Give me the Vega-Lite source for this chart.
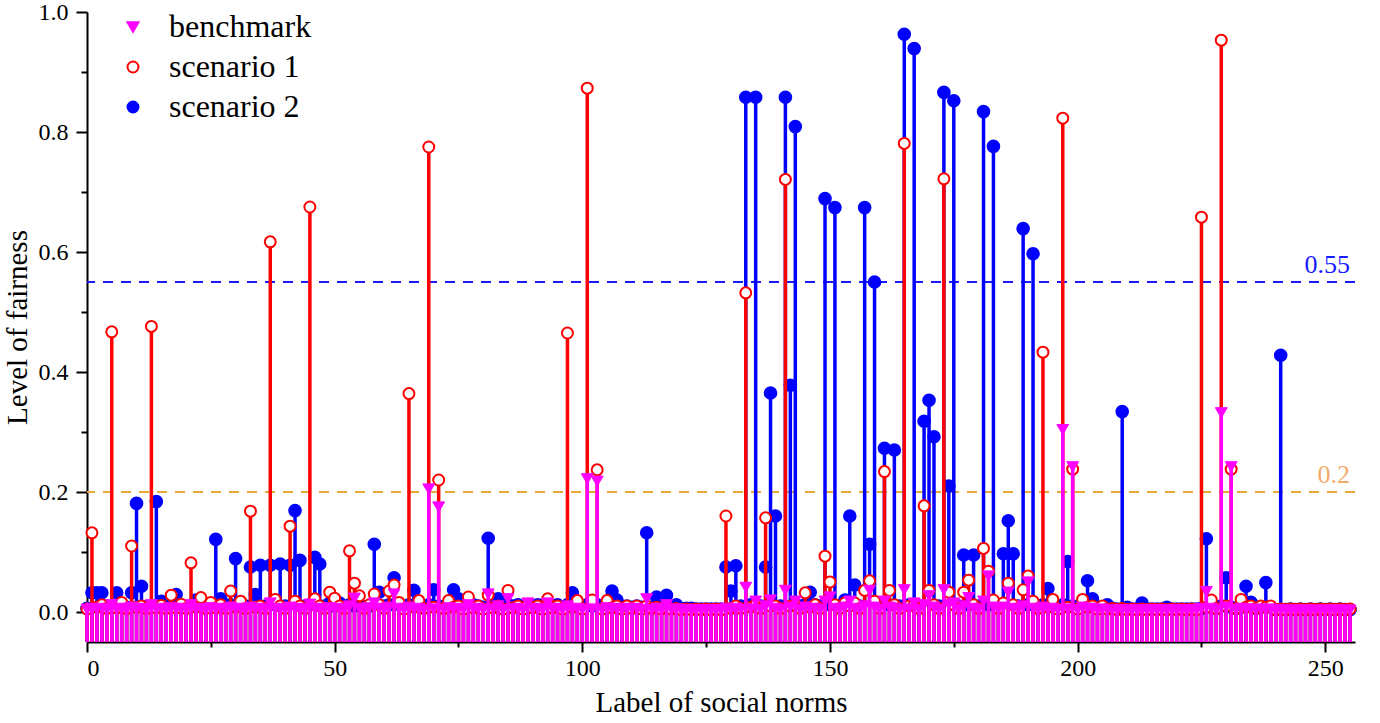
{
  "$schema": "https://vega.github.io/schema/vega-lite/v6.json",
  "width": 1268,
  "height": 630,
  "autosize": {"type": "none"},
  "padding": {"left": 87, "top": 12, "right": 25, "bottom": 81},
  "background": "#ffffff",
  "view": {"stroke": null},
  "config": {
    "font": "Liberation Serif",
    "axis": {
      "domainColor": "#000000",
      "domainWidth": 2,
      "tickColor": "#000000",
      "tickWidth": 2,
      "labelFont": "Liberation Serif",
      "labelFontSize": 24,
      "labelColor": "#000000",
      "titleFont": "Liberation Serif",
      "titleFontSize": 29,
      "titleFontWeight": "normal",
      "titleColor": "#000000",
      "grid": false
    },
    "legend": {
      "orient": "none",
      "legendX": 30,
      "legendY": -1,
      "labelFont": "Liberation Serif",
      "labelFontSize": 32,
      "labelColor": "#000000",
      "symbolSize": 120,
      "symbolStrokeWidth": 2,
      "rowPadding": 8,
      "labelOffset": 20
    }
  },
  "layer": [
    {
      "data": {"values": [{"level": 0.55, "label": "0.55"}]},
      "layer": [
        {
          "mark": {"type": "rule", "color": "#1a1aff", "strokeWidth": 2, "strokeDash": [10, 8]},
          "encoding": {"y": {"field": "level", "type": "quantitative"}}
        },
        {
          "mark": {"type": "text", "color": "#1a1aff", "font": "Liberation Serif", "fontSize": 26, "align": "right", "baseline": "bottom", "dy": -4},
          "encoding": {
            "x": {"datum": 255, "type": "quantitative"},
            "y": {"field": "level", "type": "quantitative"},
            "text": {"field": "label"}
          }
        }
      ]
    },
    {
      "data": {"values": [{"level": 0.2, "label": "0.2"}]},
      "layer": [
        {
          "mark": {"type": "rule", "color": "#e6a93a", "strokeWidth": 2, "strokeDash": [10, 8]},
          "encoding": {"y": {"field": "level", "type": "quantitative"}}
        },
        {
          "mark": {"type": "text", "color": "#f2aa6b", "font": "Liberation Serif", "fontSize": 26, "align": "right", "baseline": "bottom", "dy": -4},
          "encoding": {
            "x": {"datum": 255, "type": "quantitative"},
            "y": {"field": "level", "type": "quantitative"},
            "text": {"field": "label"}
          }
        }
      ]
    },
    {
      "data": {
        "values": [
          {"n":0,"bench":0.004,"sc1":0.005,"sc2":0.006},
          {"n":1,"bench":0.006,"sc1":0.132,"sc2":0.032},
          {"n":2,"bench":0.005,"sc1":0.008,"sc2":0.032},
          {"n":3,"bench":0.006,"sc1":0.012,"sc2":0.032},
          {"n":4,"bench":0.004,"sc1":0.006,"sc2":0.010},
          {"n":5,"bench":0.012,"sc1":0.467,"sc2":0.008},
          {"n":6,"bench":0.005,"sc1":0.007,"sc2":0.032},
          {"n":7,"bench":0.006,"sc1":0.016,"sc2":0.010},
          {"n":8,"bench":0.004,"sc1":0.006,"sc2":0.008},
          {"n":9,"bench":0.008,"sc1":0.110,"sc2":0.032},
          {"n":10,"bench":0.005,"sc1":0.008,"sc2":0.181},
          {"n":11,"bench":0.006,"sc1":0.010,"sc2":0.043},
          {"n":12,"bench":0.004,"sc1":0.006,"sc2":0.009},
          {"n":13,"bench":0.012,"sc1":0.476,"sc2":0.010},
          {"n":14,"bench":0.005,"sc1":0.007,"sc2":0.184},
          {"n":15,"bench":0.006,"sc1":0.011,"sc2":0.018},
          {"n":16,"bench":0.004,"sc1":0.006,"sc2":0.010},
          {"n":17,"bench":0.007,"sc1":0.028,"sc2":0.012},
          {"n":18,"bench":0.005,"sc1":0.007,"sc2":0.029},
          {"n":19,"bench":0.006,"sc1":0.013,"sc2":0.010},
          {"n":20,"bench":0.004,"sc1":0.006,"sc2":0.008},
          {"n":21,"bench":0.012,"sc1":0.082,"sc2":0.010},
          {"n":22,"bench":0.005,"sc1":0.008,"sc2":0.020},
          {"n":23,"bench":0.006,"sc1":0.024,"sc2":0.012},
          {"n":24,"bench":0.004,"sc1":0.006,"sc2":0.009},
          {"n":25,"bench":0.007,"sc1":0.016,"sc2":0.012},
          {"n":26,"bench":0.005,"sc1":0.007,"sc2":0.121},
          {"n":27,"bench":0.006,"sc1":0.012,"sc2":0.022},
          {"n":28,"bench":0.004,"sc1":0.006,"sc2":0.010},
          {"n":29,"bench":0.008,"sc1":0.035,"sc2":0.012},
          {"n":30,"bench":0.005,"sc1":0.008,"sc2":0.089},
          {"n":31,"bench":0.006,"sc1":0.018,"sc2":0.012},
          {"n":32,"bench":0.004,"sc1":0.006,"sc2":0.010},
          {"n":33,"bench":0.008,"sc1":0.168,"sc2":0.075},
          {"n":34,"bench":0.005,"sc1":0.008,"sc2":0.029},
          {"n":35,"bench":0.006,"sc1":0.010,"sc2":0.078},
          {"n":36,"bench":0.004,"sc1":0.006,"sc2":0.010},
          {"n":37,"bench":0.015,"sc1":0.617,"sc2":0.078},
          {"n":38,"bench":0.005,"sc1":0.021,"sc2":0.012},
          {"n":39,"bench":0.006,"sc1":0.010,"sc2":0.080},
          {"n":40,"bench":0.004,"sc1":0.006,"sc2":0.010},
          {"n":41,"bench":0.008,"sc1":0.143,"sc2":0.078},
          {"n":42,"bench":0.005,"sc1":0.018,"sc2":0.169},
          {"n":43,"bench":0.006,"sc1":0.010,"sc2":0.086},
          {"n":44,"bench":0.004,"sc1":0.006,"sc2":0.010},
          {"n":45,"bench":0.013,"sc1":0.675,"sc2":0.012},
          {"n":46,"bench":0.005,"sc1":0.022,"sc2":0.091},
          {"n":47,"bench":0.006,"sc1":0.010,"sc2":0.080},
          {"n":48,"bench":0.004,"sc1":0.006,"sc2":0.010},
          {"n":49,"bench":0.007,"sc1":0.033,"sc2":0.015},
          {"n":50,"bench":0.005,"sc1":0.023,"sc2":0.010},
          {"n":51,"bench":0.006,"sc1":0.010,"sc2":0.015},
          {"n":52,"bench":0.004,"sc1":0.006,"sc2":0.008},
          {"n":53,"bench":0.010,"sc1":0.102,"sc2":0.012},
          {"n":54,"bench":0.023,"sc1":0.048,"sc2":0.010},
          {"n":55,"bench":0.006,"sc1":0.027,"sc2":0.012},
          {"n":56,"bench":0.004,"sc1":0.006,"sc2":0.008},
          {"n":57,"bench":0.007,"sc1":0.012,"sc2":0.010},
          {"n":58,"bench":0.015,"sc1":0.030,"sc2":0.113},
          {"n":59,"bench":0.006,"sc1":0.012,"sc2":0.033},
          {"n":60,"bench":0.004,"sc1":0.006,"sc2":0.010},
          {"n":61,"bench":0.008,"sc1":0.035,"sc2":0.012},
          {"n":62,"bench":0.030,"sc1":0.045,"sc2":0.057},
          {"n":63,"bench":0.006,"sc1":0.016,"sc2":0.012},
          {"n":64,"bench":0.004,"sc1":0.005,"sc2":0.008},
          {"n":65,"bench":0.008,"sc1":0.364,"sc2":0.012},
          {"n":66,"bench":0.005,"sc1":0.008,"sc2":0.036},
          {"n":67,"bench":0.006,"sc1":0.019,"sc2":0.010},
          {"n":68,"bench":0.004,"sc1":0.006,"sc2":0.008},
          {"n":69,"bench":0.205,"sc1":0.775,"sc2":0.012},
          {"n":70,"bench":0.005,"sc1":0.008,"sc2":0.037},
          {"n":71,"bench":0.175,"sc1":0.220,"sc2":0.010},
          {"n":72,"bench":0.004,"sc1":0.006,"sc2":0.008},
          {"n":73,"bench":0.007,"sc1":0.019,"sc2":0.012},
          {"n":74,"bench":0.005,"sc1":0.008,"sc2":0.037},
          {"n":75,"bench":0.006,"sc1":0.010,"sc2":0.022},
          {"n":76,"bench":0.004,"sc1":0.005,"sc2":0.008},
          {"n":77,"bench":0.012,"sc1":0.025,"sc2":0.010},
          {"n":78,"bench":0.005,"sc1":0.007,"sc2":0.012},
          {"n":79,"bench":0.006,"sc1":0.010,"sc2":0.010},
          {"n":80,"bench":0.004,"sc1":0.005,"sc2":0.008},
          {"n":81,"bench":0.030,"sc1":0.028,"sc2":0.123},
          {"n":82,"bench":0.005,"sc1":0.007,"sc2":0.010},
          {"n":83,"bench":0.010,"sc1":0.010,"sc2":0.022},
          {"n":84,"bench":0.004,"sc1":0.005,"sc2":0.008},
          {"n":85,"bench":0.022,"sc1":0.036,"sc2":0.012},
          {"n":86,"bench":0.005,"sc1":0.007,"sc2":0.010},
          {"n":87,"bench":0.006,"sc1":0.010,"sc2":0.012},
          {"n":88,"bench":0.004,"sc1":0.005,"sc2":0.008},
          {"n":89,"bench":0.015,"sc1":0.012,"sc2":0.010},
          {"n":90,"bench":0.005,"sc1":0.007,"sc2":0.010},
          {"n":91,"bench":0.006,"sc1":0.010,"sc2":0.012},
          {"n":92,"bench":0.004,"sc1":0.005,"sc2":0.008},
          {"n":93,"bench":0.015,"sc1":0.022,"sc2":0.010},
          {"n":94,"bench":0.005,"sc1":0.007,"sc2":0.010},
          {"n":95,"bench":0.006,"sc1":0.010,"sc2":0.012},
          {"n":96,"bench":0.004,"sc1":0.005,"sc2":0.008},
          {"n":97,"bench":0.010,"sc1":0.465,"sc2":0.012},
          {"n":98,"bench":0.005,"sc1":0.008,"sc2":0.032},
          {"n":99,"bench":0.006,"sc1":0.019,"sc2":0.012},
          {"n":100,"bench":0.004,"sc1":0.005,"sc2":0.010},
          {"n":101,"bench":0.222,"sc1":0.873,"sc2":0.012},
          {"n":102,"bench":0.005,"sc1":0.020,"sc2":0.010},
          {"n":103,"bench":0.218,"sc1":0.237,"sc2":0.012},
          {"n":104,"bench":0.004,"sc1":0.005,"sc2":0.008},
          {"n":105,"bench":0.007,"sc1":0.019,"sc2":0.012},
          {"n":106,"bench":0.005,"sc1":0.007,"sc2":0.035},
          {"n":107,"bench":0.006,"sc1":0.010,"sc2":0.020},
          {"n":108,"bench":0.004,"sc1":0.005,"sc2":0.008},
          {"n":109,"bench":0.006,"sc1":0.010,"sc2":0.010},
          {"n":110,"bench":0.005,"sc1":0.006,"sc2":0.008},
          {"n":111,"bench":0.006,"sc1":0.010,"sc2":0.010},
          {"n":112,"bench":0.004,"sc1":0.005,"sc2":0.008},
          {"n":113,"bench":0.022,"sc1":0.010,"sc2":0.132},
          {"n":114,"bench":0.004,"sc1":0.006,"sc2":0.008},
          {"n":115,"bench":0.006,"sc1":0.008,"sc2":0.025},
          {"n":116,"bench":0.004,"sc1":0.005,"sc2":0.008},
          {"n":117,"bench":0.012,"sc1":0.008,"sc2":0.028},
          {"n":118,"bench":0.004,"sc1":0.005,"sc2":0.006},
          {"n":119,"bench":0.005,"sc1":0.006,"sc2":0.012},
          {"n":120,"bench":0.003,"sc1":0.004,"sc2":0.005},
          {"n":121,"bench":0.004,"sc1":0.005,"sc2":0.006},
          {"n":122,"bench":0.003,"sc1":0.004,"sc2":0.006},
          {"n":123,"bench":0.004,"sc1":0.005,"sc2":0.005},
          {"n":124,"bench":0.003,"sc1":0.004,"sc2":0.005},
          {"n":125,"bench":0.004,"sc1":0.005,"sc2":0.005},
          {"n":126,"bench":0.003,"sc1":0.004,"sc2":0.005},
          {"n":127,"bench":0.004,"sc1":0.005,"sc2":0.005},
          {"n":128,"bench":0.003,"sc1":0.004,"sc2":0.005},
          {"n":129,"bench":0.006,"sc1":0.160,"sc2":0.075},
          {"n":130,"bench":0.004,"sc1":0.006,"sc2":0.035},
          {"n":131,"bench":0.006,"sc1":0.010,"sc2":0.077},
          {"n":132,"bench":0.004,"sc1":0.006,"sc2":0.010},
          {"n":133,"bench":0.041,"sc1":0.532,"sc2":0.858},
          {"n":134,"bench":0.005,"sc1":0.008,"sc2":0.012},
          {"n":135,"bench":0.018,"sc1":0.012,"sc2":0.858},
          {"n":136,"bench":0.004,"sc1":0.006,"sc2":0.010},
          {"n":137,"bench":0.010,"sc1":0.157,"sc2":0.075},
          {"n":138,"bench":0.020,"sc1":0.010,"sc2":0.365},
          {"n":139,"bench":0.006,"sc1":0.010,"sc2":0.160},
          {"n":140,"bench":0.004,"sc1":0.006,"sc2":0.010},
          {"n":141,"bench":0.036,"sc1":0.721,"sc2":0.858},
          {"n":142,"bench":0.008,"sc1":0.010,"sc2":0.378},
          {"n":143,"bench":0.018,"sc1":0.012,"sc2":0.809},
          {"n":144,"bench":0.004,"sc1":0.006,"sc2":0.010},
          {"n":145,"bench":0.008,"sc1":0.032,"sc2":0.012},
          {"n":146,"bench":0.005,"sc1":0.008,"sc2":0.033},
          {"n":147,"bench":0.006,"sc1":0.012,"sc2":0.012},
          {"n":148,"bench":0.004,"sc1":0.006,"sc2":0.010},
          {"n":149,"bench":0.018,"sc1":0.093,"sc2":0.689},
          {"n":150,"bench":0.025,"sc1":0.050,"sc2":0.012},
          {"n":151,"bench":0.006,"sc1":0.012,"sc2":0.674},
          {"n":152,"bench":0.004,"sc1":0.006,"sc2":0.010},
          {"n":153,"bench":0.008,"sc1":0.015,"sc2":0.020},
          {"n":154,"bench":0.018,"sc1":0.010,"sc2":0.160},
          {"n":155,"bench":0.006,"sc1":0.015,"sc2":0.045},
          {"n":156,"bench":0.004,"sc1":0.006,"sc2":0.010},
          {"n":157,"bench":0.010,"sc1":0.036,"sc2":0.674},
          {"n":158,"bench":0.036,"sc1":0.052,"sc2":0.113},
          {"n":159,"bench":0.008,"sc1":0.018,"sc2":0.550},
          {"n":160,"bench":0.004,"sc1":0.006,"sc2":0.010},
          {"n":161,"bench":0.018,"sc1":0.234,"sc2":0.273},
          {"n":162,"bench":0.008,"sc1":0.036,"sc2":0.012},
          {"n":163,"bench":0.006,"sc1":0.012,"sc2":0.270},
          {"n":164,"bench":0.004,"sc1":0.006,"sc2":0.010},
          {"n":165,"bench":0.037,"sc1":0.781,"sc2":0.963},
          {"n":166,"bench":0.005,"sc1":0.010,"sc2":0.012},
          {"n":167,"bench":0.015,"sc1":0.012,"sc2":0.939},
          {"n":168,"bench":0.004,"sc1":0.006,"sc2":0.010},
          {"n":169,"bench":0.012,"sc1":0.177,"sc2":0.318},
          {"n":170,"bench":0.027,"sc1":0.036,"sc2":0.353},
          {"n":171,"bench":0.008,"sc1":0.012,"sc2":0.292},
          {"n":172,"bench":0.004,"sc1":0.006,"sc2":0.010},
          {"n":173,"bench":0.037,"sc1":0.722,"sc2":0.866},
          {"n":174,"bench":0.012,"sc1":0.033,"sc2":0.210},
          {"n":175,"bench":0.015,"sc1":0.012,"sc2":0.852},
          {"n":176,"bench":0.004,"sc1":0.006,"sc2":0.010},
          {"n":177,"bench":0.010,"sc1":0.033,"sc2":0.095},
          {"n":178,"bench":0.024,"sc1":0.053,"sc2":0.012},
          {"n":179,"bench":0.006,"sc1":0.012,"sc2":0.095},
          {"n":180,"bench":0.004,"sc1":0.006,"sc2":0.010},
          {"n":181,"bench":0.018,"sc1":0.106,"sc2":0.834},
          {"n":182,"bench":0.060,"sc1":0.068,"sc2":0.012},
          {"n":183,"bench":0.008,"sc1":0.020,"sc2":0.776},
          {"n":184,"bench":0.004,"sc1":0.006,"sc2":0.010},
          {"n":185,"bench":0.008,"sc1":0.015,"sc2":0.097},
          {"n":186,"bench":0.033,"sc1":0.048,"sc2":0.152},
          {"n":187,"bench":0.006,"sc1":0.012,"sc2":0.097},
          {"n":188,"bench":0.004,"sc1":0.006,"sc2":0.010},
          {"n":189,"bench":0.010,"sc1":0.037,"sc2":0.639},
          {"n":190,"bench":0.050,"sc1":0.060,"sc2":0.012},
          {"n":191,"bench":0.006,"sc1":0.018,"sc2":0.597},
          {"n":192,"bench":0.004,"sc1":0.006,"sc2":0.010},
          {"n":193,"bench":0.008,"sc1":0.433,"sc2":0.012},
          {"n":194,"bench":0.005,"sc1":0.008,"sc2":0.039},
          {"n":195,"bench":0.006,"sc1":0.021,"sc2":0.010},
          {"n":196,"bench":0.004,"sc1":0.005,"sc2":0.008},
          {"n":197,"bench":0.304,"sc1":0.823,"sc2":0.012},
          {"n":198,"bench":0.005,"sc1":0.008,"sc2":0.084},
          {"n":199,"bench":0.242,"sc1":0.238,"sc2":0.010},
          {"n":200,"bench":0.004,"sc1":0.005,"sc2":0.008},
          {"n":201,"bench":0.008,"sc1":0.021,"sc2":0.012},
          {"n":202,"bench":0.006,"sc1":0.008,"sc2":0.052},
          {"n":203,"bench":0.006,"sc1":0.010,"sc2":0.022},
          {"n":204,"bench":0.004,"sc1":0.005,"sc2":0.008},
          {"n":205,"bench":0.005,"sc1":0.010,"sc2":0.008},
          {"n":206,"bench":0.004,"sc1":0.005,"sc2":0.012},
          {"n":207,"bench":0.004,"sc1":0.006,"sc2":0.006},
          {"n":208,"bench":0.003,"sc1":0.004,"sc2":0.005},
          {"n":209,"bench":0.004,"sc1":0.006,"sc2":0.334},
          {"n":210,"bench":0.003,"sc1":0.004,"sc2":0.008},
          {"n":211,"bench":0.004,"sc1":0.005,"sc2":0.005},
          {"n":212,"bench":0.003,"sc1":0.004,"sc2":0.005},
          {"n":213,"bench":0.004,"sc1":0.005,"sc2":0.015},
          {"n":214,"bench":0.003,"sc1":0.004,"sc2":0.005},
          {"n":215,"bench":0.004,"sc1":0.005,"sc2":0.005},
          {"n":216,"bench":0.003,"sc1":0.004,"sc2":0.005},
          {"n":217,"bench":0.004,"sc1":0.005,"sc2":0.005},
          {"n":218,"bench":0.003,"sc1":0.004,"sc2":0.008},
          {"n":219,"bench":0.004,"sc1":0.005,"sc2":0.005},
          {"n":220,"bench":0.003,"sc1":0.004,"sc2":0.005},
          {"n":221,"bench":0.004,"sc1":0.005,"sc2":0.005},
          {"n":222,"bench":0.003,"sc1":0.004,"sc2":0.005},
          {"n":223,"bench":0.004,"sc1":0.005,"sc2":0.005},
          {"n":224,"bench":0.003,"sc1":0.004,"sc2":0.005},
          {"n":225,"bench":0.006,"sc1":0.658,"sc2":0.006},
          {"n":226,"bench":0.034,"sc1":0.008,"sc2":0.122},
          {"n":227,"bench":0.006,"sc1":0.020,"sc2":0.008},
          {"n":228,"bench":0.004,"sc1":0.006,"sc2":0.006},
          {"n":229,"bench":0.332,"sc1":0.953,"sc2":0.010},
          {"n":230,"bench":0.008,"sc1":0.010,"sc2":0.057},
          {"n":231,"bench":0.242,"sc1":0.238,"sc2":0.008},
          {"n":232,"bench":0.004,"sc1":0.006,"sc2":0.006},
          {"n":233,"bench":0.006,"sc1":0.021,"sc2":0.008},
          {"n":234,"bench":0.005,"sc1":0.008,"sc2":0.043},
          {"n":235,"bench":0.005,"sc1":0.010,"sc2":0.016},
          {"n":236,"bench":0.004,"sc1":0.006,"sc2":0.006},
          {"n":237,"bench":0.005,"sc1":0.010,"sc2":0.008},
          {"n":238,"bench":0.004,"sc1":0.008,"sc2":0.049},
          {"n":239,"bench":0.005,"sc1":0.010,"sc2":0.008},
          {"n":240,"bench":0.003,"sc1":0.004,"sc2":0.004},
          {"n":241,"bench":0.004,"sc1":0.005,"sc2":0.428},
          {"n":242,"bench":0.003,"sc1":0.004,"sc2":0.004},
          {"n":243,"bench":0.003,"sc1":0.005,"sc2":0.005},
          {"n":244,"bench":0.003,"sc1":0.004,"sc2":0.004},
          {"n":245,"bench":0.003,"sc1":0.005,"sc2":0.005},
          {"n":246,"bench":0.003,"sc1":0.004,"sc2":0.004},
          {"n":247,"bench":0.003,"sc1":0.005,"sc2":0.005},
          {"n":248,"bench":0.003,"sc1":0.004,"sc2":0.004},
          {"n":249,"bench":0.003,"sc1":0.005,"sc2":0.005},
          {"n":250,"bench":0.003,"sc1":0.004,"sc2":0.004},
          {"n":251,"bench":0.003,"sc1":0.005,"sc2":0.005},
          {"n":252,"bench":0.003,"sc1":0.004,"sc2":0.004},
          {"n":253,"bench":0.003,"sc1":0.005,"sc2":0.005},
          {"n":254,"bench":0.003,"sc1":0.004,"sc2":0.004},
          {"n":255,"bench":0.003,"sc1":0.005,"sc2":0.004}
        ]
      },
      "transform": [{"fold": ["bench", "sc1", "sc2"], "as": ["series", "value"]}],
      "encoding": {
        "x": {
          "field": "n",
          "type": "quantitative",
          "scale": {"domain": [0, 256], "nice": false, "zero": false},
          "axis": {
            "title": "Label of social norms",
            "labelFont": "Liberation Serif",
            "titleFont": "Liberation Serif",
            "values": [0, 25, 50, 75, 100, 125, 150, 175, 200, 225, 250],
            "labelExpr": "datum.value % 50 === 0 ? datum.label : ''",
            "tickSize": {"condition": {"test": "datum.value % 50 === 0", "value": 10}, "value": 5},
            "labelPadding": 4,
            "titlePadding": 8
          }
        },
        "y": {
          "field": "value",
          "type": "quantitative",
          "scale": {"domain": [-0.05, 1.0], "nice": false, "zero": false},
          "axis": {
            "title": "Level of fairness",
            "labelFont": "Liberation Serif",
            "titleFont": "Liberation Serif",
            "values": [0, 0.1, 0.2, 0.3, 0.4, 0.5, 0.6, 0.7, 0.8, 0.9, 1.0],
            "labelExpr": "round(datum.value * 10) % 2 === 0 ? format(datum.value, '.1f') : ''",
            "tickSize": {"condition": {"test": "round(datum.value * 10) % 2 === 0", "value": 11}, "value": 6},
            "labelPadding": 8,
            "titlePadding": 6
          }
        }
      },
      "layer": [
        {
          "transform": [{"filter": "datum.series === 'sc2'"}],
          "mark": {"type": "rule", "strokeWidth": 3.5, "color": "#0000ff"},
          "encoding": {"y2": {"datum": -0.05}}
        },
        {
          "transform": [{"filter": "datum.series === 'sc2'"}],
          "mark": {"type": "point", "filled": true, "size": 135, "strokeWidth": 2, "opacity": 1},
          "encoding": {
            "shape": {
              "field": "series",
              "type": "nominal",
              "scale": {"domain": ["bench", "sc1", "sc2"], "range": ["triangle-down", "circle", "circle"]},
              "legend": {"title": null, "labelExpr": "datum.label === 'bench' ? 'benchmark' : datum.label === 'sc1' ? 'scenario 1' : 'scenario 2'"}
            },
            "fill": {
              "field": "series",
              "type": "nominal",
              "scale": {"domain": ["bench", "sc1", "sc2"], "range": ["#ff00ff", "#ffffff", "#0000ff"]},
              "legend": {"title": null, "labelExpr": "datum.label === 'bench' ? 'benchmark' : datum.label === 'sc1' ? 'scenario 1' : 'scenario 2'"}
            },
            "stroke": {
              "field": "series",
              "type": "nominal",
              "scale": {"domain": ["bench", "sc1", "sc2"], "range": ["#ff00ff", "#ff0000", "#0000ff"]},
              "legend": {"title": null, "labelExpr": "datum.label === 'bench' ? 'benchmark' : datum.label === 'sc1' ? 'scenario 1' : 'scenario 2'"}
            }
          }
        },
        {
          "transform": [{"filter": "datum.series === 'sc1'"}],
          "mark": {"type": "rule", "strokeWidth": 3.5, "color": "#ff0000"},
          "encoding": {"y2": {"datum": -0.05}}
        },
        {
          "transform": [{"filter": "datum.series === 'sc1'"}],
          "mark": {"type": "point", "filled": true, "size": 120, "strokeWidth": 2, "opacity": 1},
          "encoding": {
            "shape": {"field": "series", "type": "nominal"},
            "fill": {"field": "series", "type": "nominal"},
            "stroke": {"field": "series", "type": "nominal"}
          }
        },
        {
          "transform": [{"filter": "datum.series === 'bench'"}],
          "mark": {"type": "rule", "strokeWidth": 3.5, "color": "#ff00ff"},
          "encoding": {"y2": {"datum": -0.05}}
        },
        {
          "transform": [{"filter": "datum.series === 'bench'"}],
          "mark": {"type": "point", "filled": true, "size": 140, "strokeWidth": 1, "opacity": 1},
          "encoding": {
            "shape": {"field": "series", "type": "nominal"},
            "fill": {"field": "series", "type": "nominal"},
            "stroke": {"field": "series", "type": "nominal"}
          }
        }
      ]
    }
  ]
}
